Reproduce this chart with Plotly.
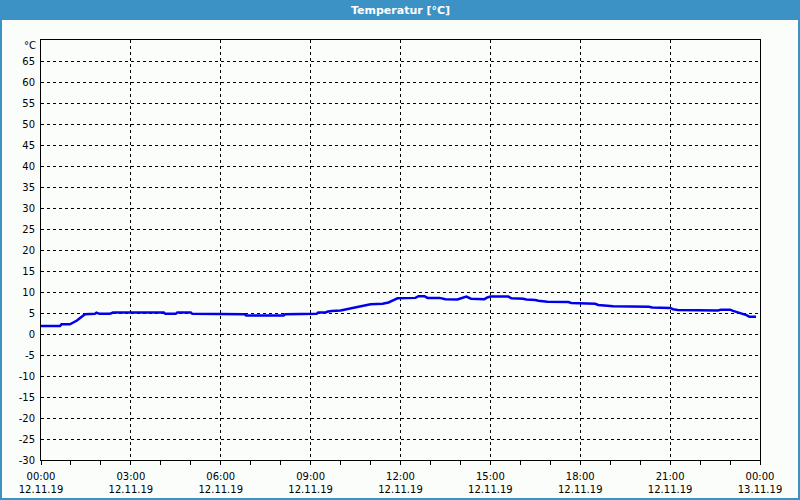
import plotly.graph_objects as go
import pandas as pd

# ---- data ----
times = ["00:00", "00:38", "00:41", "00:58", "01:12", "01:28", "01:48", "01:51", "01:57",
         "02:18", "02:24", "04:06", "04:09", "04:30", "04:33", "05:00", "05:03", "06:00",
         "06:03", "06:48", "06:51", "08:06", "08:09", "08:36", "08:39", "09:12", "09:15",
         "09:30", "09:33", "09:42", "10:00", "10:12", "10:24", "10:36", "10:48", "11:00",
         "11:24", "11:36", "11:45", "11:54", "12:30", "12:36", "12:48", "12:54", "13:18",
         "13:30", "13:54", "14:03", "14:12", "14:21", "14:48", "14:54", "15:00", "15:36",
         "15:42", "16:06", "16:12", "16:30", "16:36", "16:54", "17:36", "17:42", "18:00",
         "18:30", "18:36", "18:48", "19:06", "20:18", "20:24", "21:00", "21:06", "21:15",
         "22:36", "22:42", "23:00", "23:06", "23:15", "23:24", "23:33", "23:39", "23:52"]
temps = [1.9, 1.9, 2.3, 2.3, 3.2, 4.7, 4.8, 5.1, 4.8,
         4.8, 5.1, 5.1, 4.8, 4.8, 5.1, 5.1, 4.8, 4.8,
         4.7, 4.7, 4.4, 4.4, 4.7, 4.7, 4.8, 4.8, 5.1,
         5.1, 5.3, 5.5, 5.6, 5.9, 6.2, 6.5, 6.7, 7.1,
         7.2, 7.5, 8.0, 8.5, 8.6, 9.0, 9.0, 8.6, 8.6,
         8.3, 8.2, 8.5, 8.9, 8.4, 8.3, 8.7, 8.9, 8.9,
         8.5, 8.4, 8.2, 8.1, 7.9, 7.7, 7.6, 7.4, 7.3,
         7.2, 6.9, 6.8, 6.6, 6.5, 6.3, 6.2, 5.9, 5.7,
         5.6, 5.8, 5.8, 5.5, 5.2, 4.9, 4.5, 4.1, 4.1]

tick_times = ["2019-11-12 00:00", "2019-11-12 03:00", "2019-11-12 06:00", "2019-11-12 09:00",
              "2019-11-12 12:00", "2019-11-12 15:00", "2019-11-12 18:00", "2019-11-12 21:00",
              "2019-11-13 00:00"]
tick_labels = ["00:00<br>12.11.19", "03:00<br>12.11.19", "06:00<br>12.11.19", "09:00<br>12.11.19",
               "12:00<br>12.11.19", "15:00<br>12.11.19", "18:00<br>12.11.19", "21:00<br>12.11.19",
               "00:00<br>13.11.19"]
y_ticks = list(range(-30, 70, 5))
title = "Temperatur [°C]"
unit = "°C"

x = pd.to_datetime(["2019-11-12 " + t for t in times])

BLUE_BAR = "#3c92c5"
BG = "#fbfdfb"
FONT = "DejaVu Sans"

fig = go.Figure()
fig.add_trace(go.Scatter(x=x, y=temps, mode="lines",
                         line=dict(color="#0000ee", width=2.5), hoverinfo="skip"))

fig.update_layout(
    width=800, height=500,
    margin=dict(l=41, r=40, t=40, b=40, autoexpand=False),
    paper_bgcolor=BG, plot_bgcolor=BG,
    showlegend=False,
    font=dict(family=FONT, size=10, color="black"),
    xaxis=dict(
        range=["2019-11-12 00:00", "2019-11-13 00:00"],
        tickvals=tick_times, ticktext=tick_labels,
        ticks="outside", ticklen=4, tickcolor="black", tickwidth=1,
        ticklabelstandoff=3, automargin=False,
        minor=dict(dtick=3600000, ticks="outside", ticklen=4, tickcolor="black", showgrid=False),
        showgrid=True, gridcolor="black", gridwidth=1, griddash="3px,3px",
        showline=True, linecolor="black", linewidth=1, mirror=True,
        zeroline=False, fixedrange=True,
    ),
    yaxis=dict(
        range=[-30, 70],
        tickvals=y_ticks, ticktext=[str(v) for v in y_ticks],
        ticks="", ticklabelstandoff=3, automargin=False,
        showgrid=True, gridcolor="black", gridwidth=1, griddash="3px,3px",
        showline=True, linecolor="black", linewidth=1, mirror=True,
        zeroline=False, fixedrange=True,
    ),
    shapes=[
        dict(type="rect", xref="paper", yref="paper", x0=-41/719, x1=1 + 40/719,
             y0=1 + 20/420, y1=1 + 40/420, fillcolor=BLUE_BAR, line=dict(width=0), layer="below"),
        dict(type="line", xref="paper", yref="paper", x0=-40/719, x1=-40/719,
             y0=-40/420, y1=1 + 20/420, line=dict(color=BLUE_BAR, width=2)),
        dict(type="line", xref="paper", yref="paper", x0=1 + 39/719, x1=1 + 39/719,
             y0=-40/420, y1=1 + 20/420, line=dict(color=BLUE_BAR, width=2)),
        dict(type="line", xref="paper", yref="paper", x0=-41/719, x1=1 + 40/719,
             y0=-39/420, y1=-39/420, line=dict(color=BLUE_BAR, width=2)),
    ],
    annotations=[
        dict(text="<b>" + title + "</b>", xref="paper", yref="paper",
             x=(400 - 41) / 719, y=1 + 30 / 420, xanchor="center", yanchor="middle",
             showarrow=False, font=dict(family=FONT, size=11, color="white")),
        dict(text=unit, xref="paper", yref="y", x=0, y=70, xanchor="right", yanchor="middle",
             xshift=-3, yshift=-5, showarrow=False, font=dict(family=FONT, size=10, color="black")),
    ],
)

fig.write_html("out.html")
